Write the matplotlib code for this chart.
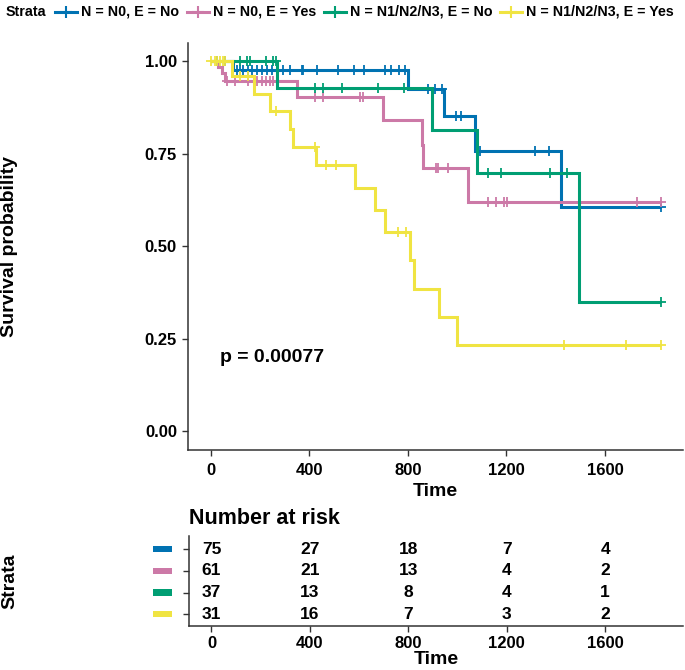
import numpy as np
import matplotlib
matplotlib.use("Agg")
import matplotlib.pyplot as plt
from matplotlib.lines import Line2D
from matplotlib.patches import Rectangle
from matplotlib import transforms

plt.rcParams['font.family'] = ['Liberation Sans', 'DejaVu Sans']

# ---------------- data ----------------
strata = ["N = N0, E = No", "N = N0, E = Yes", "N = N1/N2/N3, E = No", "N = N1/N2/N3, E = Yes"]
colors = ["#0072B2", "#CC79A7", "#009E73", "#F0E442"]

blue_time = [0, 90, 800, 947, 1073, 1422, 1825]
blue_surv = [1.0, 0.975, 0.926, 0.851, 0.758, 0.607, 0.607]
blue_cens = [25, 60, 106, 119, 133, 153, 167, 190, 208, 231, 248, 295, 322, 370, 376, 431,
             519, 580, 621, 709, 732, 763, 790, 884, 911, 938, 996, 1015, 1091, 1317, 1371, 1825]

pink_time = [0, 30, 45, 58, 352, 701, 857, 863, 1046, 1825]
pink_surv = [1.0, 0.984, 0.967, 0.946, 0.903, 0.841, 0.774, 0.711, 0.620, 0.620]
pink_cens = [65, 99, 153, 187, 207, 224, 241, 252, 423, 457, 606, 617, 915, 924, 965,
             1127, 1158, 1191, 1202, 1730, 1825]

green_time = [0, 268, 897, 1080, 1493, 1825]
green_surv = [1.0, 0.928, 0.814, 0.698, 0.349, 0.349]
green_cens = [119, 146, 160, 225, 252, 265, 423, 457, 532, 681, 785, 1127, 1179, 1378, 1445, 1825]

yellow_time = [0, 89, 176, 243, 322, 336, 428, 586, 667, 708, 809, 827, 928, 999, 1825]
yellow_surv = [1.0, 0.959, 0.912, 0.866, 0.816, 0.769, 0.718, 0.657, 0.597, 0.539, 0.462,
               0.384, 0.309, 0.232, 0.232]
yellow_cens = [4, 17, 27, 38, 49, 58, 119, 153, 265, 423, 468, 507, 762, 793, 1432, 1686, 1825]

risk_times = [0, 400, 800, 1200, 1600]
risk_blue = [75, 27, 18, 7, 4]
risk_pink = [61, 21, 13, 4, 2]
risk_green = [37, 13, 8, 4, 1]
risk_yellow = [31, 16, 7, 3, 2]

x_ticks = [0, 400, 800, 1200, 1600]
y_ticks = [0.0, 0.25, 0.50, 0.75, 1.00]
y_ticklabels = ["0.00", "0.25", "0.50", "0.75", "1.00"]
pval_text = "p = 0.00077"

curves = [(blue_time, blue_surv, blue_cens), (pink_time, pink_surv, pink_cens),
          (green_time, green_surv, green_cens), (yellow_time, yellow_surv, yellow_cens)]
risks = [risk_blue, risk_pink, risk_green, risk_yellow]

# ---------------- figure ----------------
W, H = 685, 670
fig = plt.figure(figsize=(W / 100, H / 100), dpi=100)

def fx(px):
    return px / W

def fy(py):
    return 1 - py / H

spine_col = "#333333"
lw_curve = 2.2

ax = fig.add_axes([fx(188), fy(449.5), fx(683) - fx(188), fy(42.7) - fy(449.5)])
for (t, s, c), col in zip(curves, colors):
    t = np.asarray(t, float)
    s = np.asarray(s, float)
    ax.step(t, s, where="post", color=col, lw=lw_curve, solid_joinstyle="miter",
            solid_capstyle="butt")
    c = np.asarray(c, float)
    cy = s[np.searchsorted(t, c, side="right") - 1]
    ax.plot(c, cy, linestyle="none", marker="+", ms=7.5, mew=1.3, color=col)

ax.set_xlim(-91.25, 1916.25)
ax.set_ylim(-0.05, 1.05)
ax.set_xticks(x_ticks)
ax.set_xticklabels([str(v) for v in x_ticks])
ax.set_yticks(y_ticks)
ax.set_yticklabels(y_ticklabels)
for sp in ["top", "right"]:
    ax.spines[sp].set_visible(False)
for sp in ["left", "bottom"]:
    ax.spines[sp].set_color(spine_col)
    ax.spines[sp].set_linewidth(1.1)
ax.tick_params(axis="both", length=4, width=1.0, color=spine_col, labelsize=12, pad=4)
ax.tick_params(axis="x", pad=6)
for lab in ax.get_xticklabels() + ax.get_yticklabels():
    lab.set_fontweight("bold")
ax.set_xlabel("Time", fontsize=14, fontweight="bold", labelpad=3)
ax.set_ylabel("Survival probability", fontsize=14, fontweight="bold")
ax.yaxis.set_label_coords((18 - 188) / (683 - 188), 0.5)
ax.text(40, 0.2, pval_text, fontsize=14, fontweight="bold", ha="left", va="center")

# ---------------- risk table ----------------
rax = fig.add_axes([fx(189), fy(626), fx(683) - fx(189), fy(536) - fy(626)])
rax.set_xlim(-91.25, 1916.25)
rax.set_ylim(0.46, 4.6)
n = len(strata)
for i, (r, col) in enumerate(zip(risks, colors)):
    yv = n - i
    for tx, val in zip(risk_times, r):
        rax.text(tx, yv, str(val), ha="center", va="center", fontsize=12.5, fontweight="bold")
    tr = transforms.blended_transform_factory(rax.transAxes, rax.transData)
    rax.add_patch(Rectangle((-0.0735, yv - 0.14), 0.0385, 0.28, transform=tr,
                            color=col, clip_on=False, lw=0))
rax.set_yticks([n - i for i in range(n)])
rax.set_yticklabels([])
rax.set_xticks(x_ticks)
rax.set_xticklabels([str(v) for v in x_ticks])
for sp in ["top", "right"]:
    rax.spines[sp].set_visible(False)
for sp in ["left", "bottom"]:
    rax.spines[sp].set_color(spine_col)
    rax.spines[sp].set_linewidth(1.1)
rax.tick_params(axis="both", length=4, width=1.0, color=spine_col, labelsize=12, pad=3)
for lab in rax.get_xticklabels():
    lab.set_fontweight("bold")
rax.set_xlabel("Time", fontsize=14, fontweight="bold", labelpad=0)
rax.set_ylabel("Strata", fontsize=14, fontweight="bold")
rax.yaxis.set_label_coords((18 - 189) / (683 - 189), 0.5)
fig.text(fx(189), fy(518), "Number at risk", fontsize=15.5, fontweight="bold",
         ha="left", va="center")

# ---------------- legend (top) ----------------
ly = fy(12)
renderer = fig.canvas.get_renderer()
fs = 10.5
while True:
    t0 = fig.text(fx(6), ly, "Strata", fontsize=fs, fontweight="bold", ha="left", va="center")
    w0 = t0.get_window_extent(renderer).width
    total = 6 + w0
    widths = []
    for lab in strata:
        tt = fig.text(0, 0, lab, fontsize=fs, fontweight="bold")
        widths.append(tt.get_window_extent(renderer).width)
        tt.remove()
    total += sum(8 + 22 + 4 + w for w in widths)
    if total <= 681 or fs < 7:
        break
    t0.remove()
    fs -= 0.25

x = 6 + w0 + 8
for lab, col, w in zip(strata, colors, widths):
    fig.add_artist(Line2D([fx(x), fx(x + 22)], [ly, ly], color=col, lw=lw_curve,
                          transform=fig.transFigure))
    fig.add_artist(Line2D([fx(x + 11)], [ly], color=col, marker="+", ms=9, mew=1.5,
                          linestyle="none", transform=fig.transFigure))
    fig.text(fx(x + 26), ly, lab, fontsize=fs, fontweight="bold", ha="left", va="center")
    x += 22 + 4 + w + 8

fig.savefig("out.png", dpi=100)
